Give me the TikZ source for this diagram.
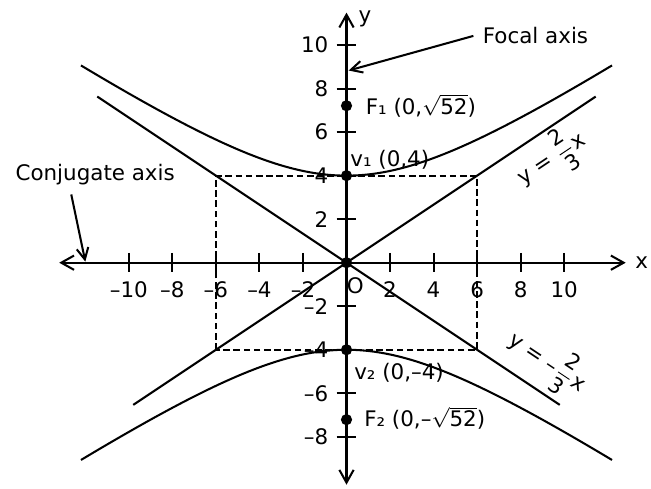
\documentclass[tikz,border=0pt]{standalone}
\usepackage{amsmath}
\usepackage{fontspec}
\setmainfont{DejaVu Sans}
\usetikzlibrary{arrows.meta}

\newcommand\twothirds{$\dfrac{\hbox{2}}{\hbox{3}}$}
\newcommand\rootof[1]{$\sqrt{\hbox{#1}}$}

\begin{document}
\begin{tikzpicture}[x=0.3cm, y=0.3cm, line width=0.8pt,
		every node/.style={font=\fontsize{8.4}{10}\selectfont},
		>={Straight Barb[length=5pt,width=5.6pt]},
		pointer/.style={-{Straight Barb[length=4.5pt,width=4.6pt]}},
		dot/.style={circle, fill, inner sep=0pt, minimum size=4.4pt},
		guide/.style={line width=0.7pt, dash pattern=on 2.6pt off 1.4pt}]
	\useasboundingbox (-15.92, -10.39) rectangle (13.99, 12.07);

	% axes
	\coordinate (xl) at (-13.2, 0);
	\coordinate (xr) at (12.83, 0);
	\coordinate (yb) at (0, -10.2);
	\coordinate (yt) at (0, 11.49);
	\draw [<->] (xl) -- (xr) node [right] (xname) {x};
	\draw [<->] (yb) -- (yt);
	\node [anchor=west] (yname) at (0.12, 11.2) {y};

	% ticks and numbers
	\foreach \t/\s in {-10/–10, -8/–8, -6/–6, -4/–4, -2/–2, 2/2, 4/4, 6/6, 8/8, 10/10} {
		\draw (\t, 0.45) -- (\t, -0.45);
		\node (nx\t) at (\t, -1.22) {\s};
	}
	\foreach \t/\s in {-8/–8, -6/–6, -4/–4, -2/–2, 2/2, 4/4, 6/6, 8/8, 10/10} {
		\draw (-0.45, \t) -- (0.45, \t);
		\node [anchor=east] (ny\t) at (-0.4, \t) {\s};
	}
	\node (orig) at (0.41, -1.07) {O};

	% box of the asymptotes
	\draw [guide] (-6, -4) rectangle (6, 4);

	% asymptotes
	\draw (-9.8, -6.533) -- (11.45, 7.633);
	\draw (-11.45, 7.633) -- (9.8, -6.533);
	\node [rotate=33.69] (asy1) at (9.40, 4.80) {y = \twothirds x};
	\node [rotate=-33.69] (asy2) at (9.23, -4.57) {y = –\twothirds x};

	% hyperbola
	\draw [domain=-12.2:12.2, smooth, samples=61] plot (\x, {4*sqrt(1+\x*\x/36)});
	\draw [domain=-12.2:12.2, smooth, samples=61] plot (\x, {-4*sqrt(1+\x*\x/36)});

	% vertices and foci
	\node [dot] (O) at (0, 0) {};
	\node [dot] (v1) at (0, 4) {};
	\node [dot] (v2) at (0, -4) {};
	\node [dot] (F1) at (0, 7.211) {};
	\node [dot] (F2) at (0, -7.211) {};
	\node [anchor=base west] (v1l) at (-0.26, 4.44) {v₁ (0,4)};
	\node [anchor=west] (v2l) at (-0.08, -5.06) {v₂ (0,–4)};
	\node [anchor=west] (F1l) at (0.45, 7.21) {F₁ (0,\rootof{52})};
	\node [anchor=west] (F2l) at (0.38, -7.15) {F₂ (0,–\rootof{52})};

	% axis names
	\node [anchor=west] (focal) at (5.83, 10.42) {Focal axis};
	\coordinate (ftip) at (0.1, 8.83);
	\draw [pointer] (focal.west) -- (ftip);
	\node [anchor=west] (conj) at (-15.64, 4.05) {Conjugate axis};
	\coordinate (ctip) at (-12.0, 0.05);
	\draw [pointer] ([xshift=-0.33cm]conj.south) -- (ctip);
\end{tikzpicture}
\end{document}
